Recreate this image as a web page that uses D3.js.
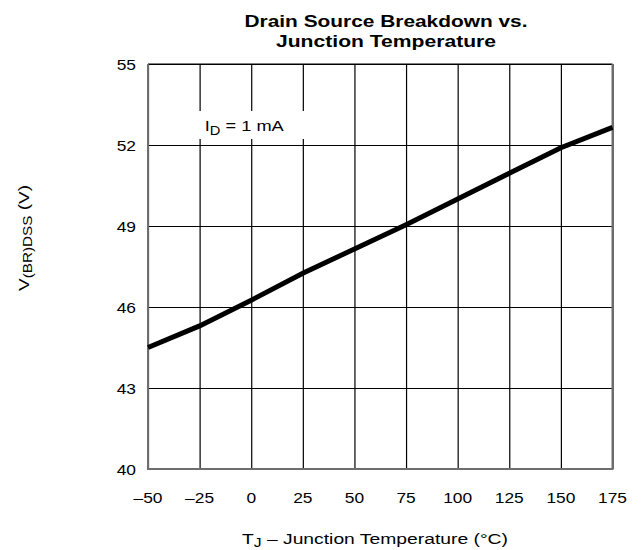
<!DOCTYPE html>
<html>
<head>
<meta charset="utf-8">
<script src="https://cdn.jsdelivr.net/npm/d3@7"></script>
<style>
  body { margin: 0; background: #fff; }
  svg text { font-family: "Liberation Sans", Arial, sans-serif; fill: #000; }
</style>
</head>
<body>
<div id="chart"></div>
<script>
// data
var temps = [-50, -25, 0, 25, 50, 75, 100, 125, 150, 175];
var bvdss = [44.5, 45.3, 46.25, 47.25, 48.15, 49.05, 50.0, 50.95, 51.9, 52.65];
var xTicks = [-50, -25, 0, 25, 50, 75, 100, 125, 150, 175];
var yTicks = [40, 43, 46, 49, 52, 55];

var svgWidth = 643;
var svgHeight = 550;
var margin = { top: 64, right: 30.5, bottom: 81, left: 148 };
var width = svgWidth - margin.left - margin.right;
var height = svgHeight - margin.top - margin.bottom;

// the original lettering is wider than Liberation Sans, so stretch it a bit
function stretch(sel, k) {
    sel.each(function() {
        var w = this.getComputedTextLength();
        d3.select(this).attr("textLength", w * k).attr("lengthAdjust", "spacingAndGlyphs");
    });
}

var svg = d3.select("#chart").append("svg")
    .attr("width", svgWidth)
    .attr("height", svgHeight);

var chartGroup = svg.append("g")
    .attr("transform", `translate(${margin.left}, ${margin.top})`);

var x = d3.scaleLinear().domain([-50, 175]).range([0, width]);
var y = d3.scaleLinear().domain([40, 55]).range([height, 0]);

// grid
chartGroup.append("g")
    .attr("transform", `translate(0, ${height})`)
    .call(d3.axisBottom(x).tickValues(xTicks).tickSize(-height).tickFormat(""))
    .call(g => g.select(".domain").remove())
    .selectAll("line").attr("stroke", "#000").attr("stroke-width", 1.2);

chartGroup.append("g")
    .call(d3.axisLeft(y).tickValues(yTicks).tickSize(-width).tickFormat(""))
    .call(g => g.select(".domain").remove())
    .selectAll("line").attr("stroke", "#000").attr("stroke-width", 1.2);

// white box behind the condition label
chartGroup.append("rect")
    .attr("x", x(-29)).attr("y", 47)
    .attr("width", 120).attr("height", 28)
    .attr("fill", "#fff");

// frame
chartGroup.append("line").attr("x1", 0).attr("x2", width).attr("y1", 0).attr("y2", 0)
    .attr("stroke", "#000").attr("stroke-width", 1.2);
chartGroup.append("path")
    .attr("d", `M0,0V${height}H${width}V0`)
    .attr("fill", "none").attr("stroke", "#6e6e6e").attr("stroke-width", 2);

// tick labels
chartGroup.selectAll(".xlab")
    .data(xTicks)
    .enter().append("text")
    .attr("class", "xlab")
    .attr("x", d => x(d))
    .attr("y", height + 34)
    .attr("text-anchor", "middle")
    .attr("font-size", 15.5)
    .text(d => d < 0 ? "\u2013" + Math.abs(d) : d)
    .call(stretch, 1.12);

chartGroup.selectAll(".ylab")
    .data(yTicks)
    .enter().append("text")
    .attr("class", "ylab")
    .attr("x", -12)
    .attr("y", d => y(d) + 5.5)
    .attr("text-anchor", "end")
    .attr("font-size", 15.5)
    .text(d => d)
    .call(stretch, 1.12);

// the curve
var line = d3.line()
    .x(d => x(d[0]))
    .y(d => y(d[1]));

chartGroup.append("path")
    .datum(d3.zip(temps, bvdss))
    .attr("d", line)
    .attr("fill", "none")
    .attr("stroke", "#000")
    .attr("stroke-width", 5);

// condition label
var cond = chartGroup.append("text")
    .attr("x", x(-22.5))
    .attr("y", 67)
    .attr("font-size", 15.5);
cond.append("tspan").text("I");
cond.append("tspan").attr("font-size", 12.5).attr("dy", 4).text("D");
cond.append("tspan").attr("dy", -4).text(" = 1 mA");
cond.attr("textLength", 79).attr("lengthAdjust", "spacingAndGlyphs");

// title
svg.append("text")
    .attr("x", 386).attr("y", 27)
    .attr("text-anchor", "middle")
    .attr("font-size", 16.5).attr("font-weight", "bold")
    .attr("textLength", 283).attr("lengthAdjust", "spacingAndGlyphs")
    .text("Drain Source Breakdown vs.");
svg.append("text")
    .attr("x", 386).attr("y", 47)
    .attr("text-anchor", "middle")
    .attr("font-size", 16.5).attr("font-weight", "bold")
    .attr("textLength", 220).attr("lengthAdjust", "spacingAndGlyphs")
    .text("Junction Temperature");

// axis titles
var xt = svg.append("text")
    .attr("x", 375).attr("y", 544)
    .attr("text-anchor", "middle")
    .attr("font-size", 15.5);
xt.append("tspan").text("T");
xt.append("tspan").attr("font-size", 12.5).attr("dy", 3).text("J");
xt.append("tspan").attr("dy", -3).text("  \u2013  Junction Temperature (\u00b0C)");
xt.attr("textLength", 266).attr("lengthAdjust", "spacingAndGlyphs");

var yt = svg.append("text")
    .attr("transform", "translate(29, 238) rotate(-90)")
    .attr("text-anchor", "middle")
    .attr("font-size", 15.5);
yt.append("tspan").text("V");
yt.append("tspan").attr("font-size", 12.5).attr("dy", 3).text("(BR)DSS");
yt.append("tspan").attr("dy", -3).text(" (V)");
yt.attr("textLength", 106).attr("lengthAdjust", "spacingAndGlyphs");
</script>
</body>
</html>
